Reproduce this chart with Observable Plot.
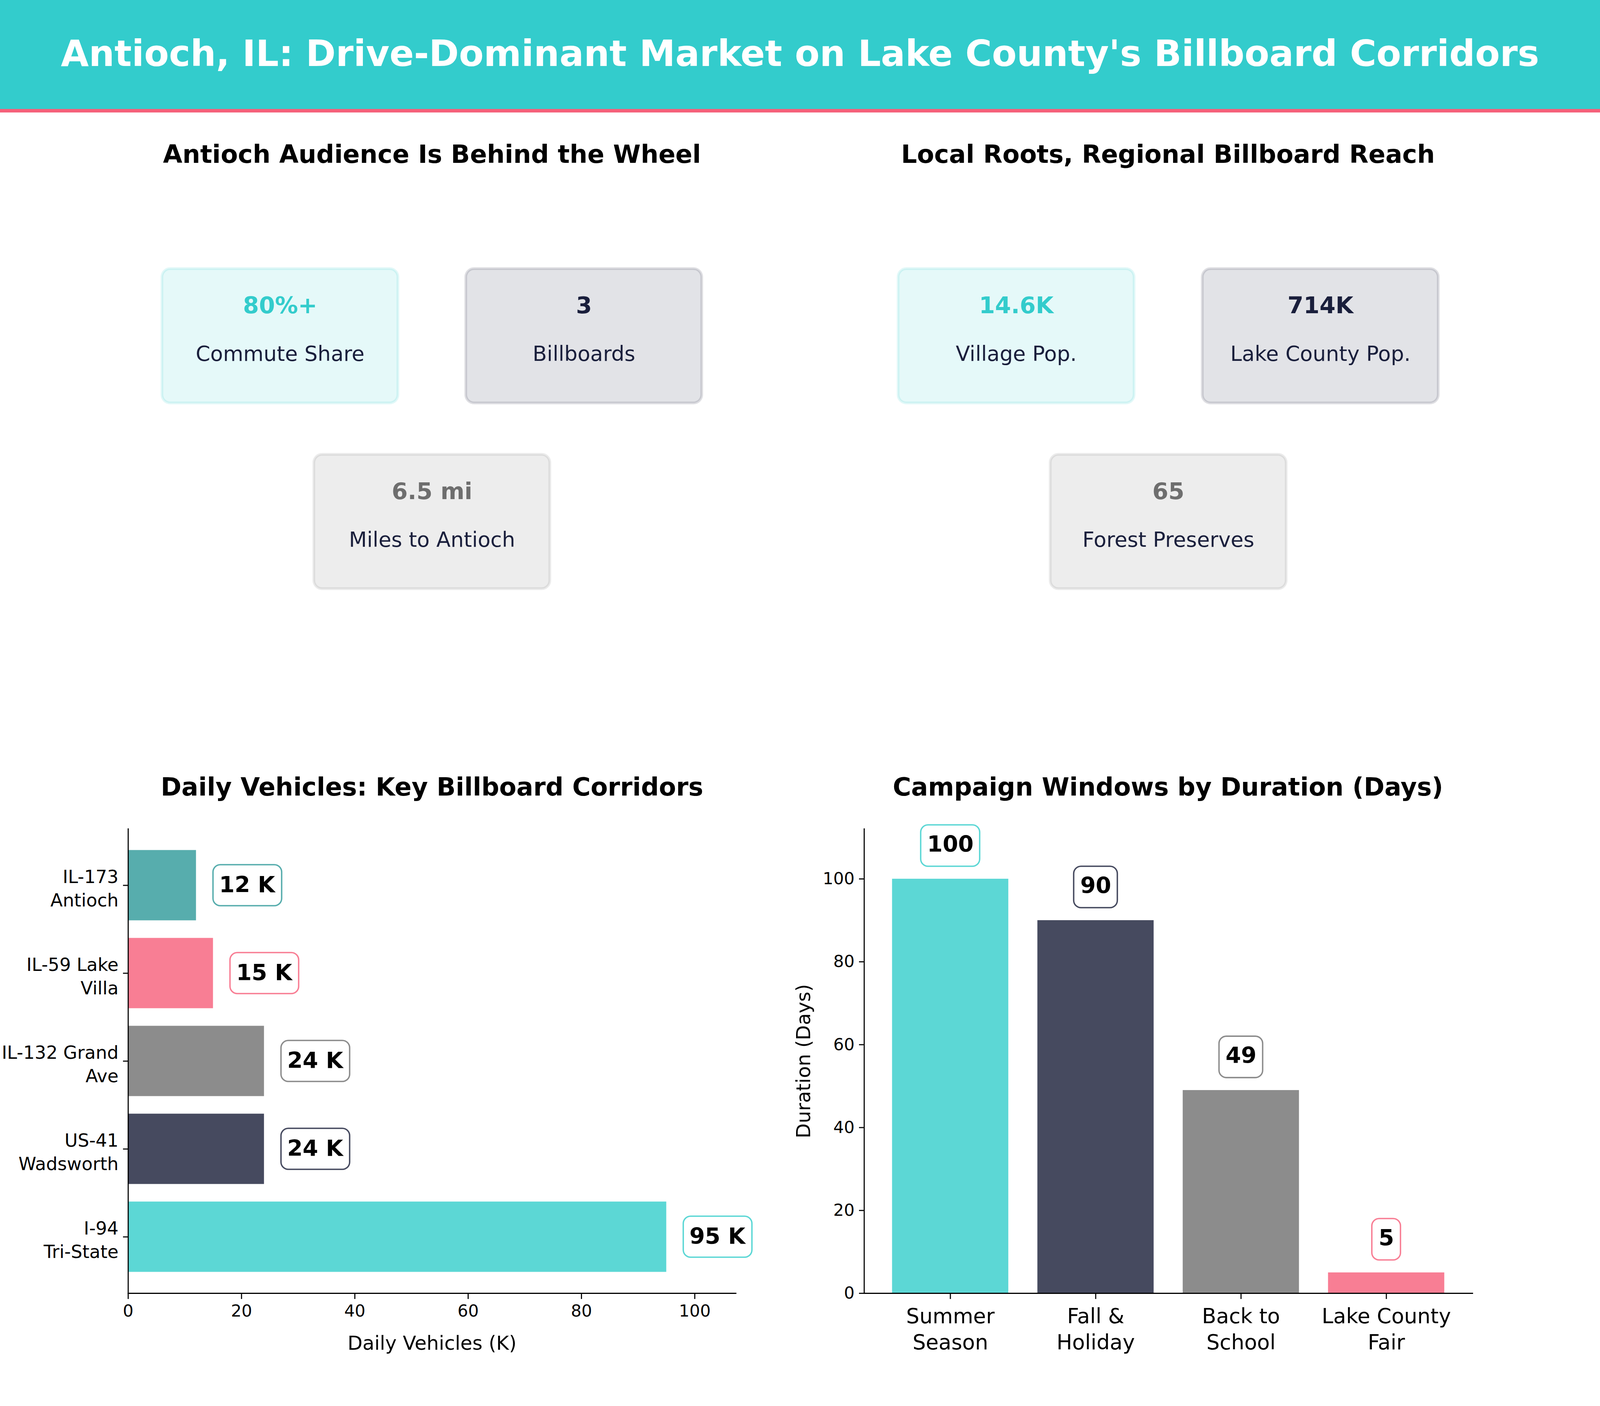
<!DOCTYPE html>
<html>
<head>
<meta charset="utf-8">
<script src="https://cdn.jsdelivr.net/npm/d3@7"></script>
<script src="https://cdn.jsdelivr.net/npm/@observablehq/plot@0.6"></script>
<style>
html,body{margin:0;padding:0;background:#fff;overflow:hidden;}
#page{position:relative;overflow:hidden;background:#fff;font-family:"DejaVu Sans",sans-serif;}
#banner{position:absolute;left:0;top:0;background:#33CCCC;border-bottom-style:solid;border-bottom-color:#F5607A;color:#fff;font-weight:bold;text-align:center;white-space:nowrap;}
.ptitle{position:absolute;text-align:center;font-weight:bold;color:#000;white-space:nowrap;}
.panel{position:absolute;}
.panel svg{display:block;max-width:none;}
</style>
</head>
<body>
<div id="page"><div id="banner">Antioch, IL: Drive-Dominant Market on Lake County's Billboard Corridors</div></div>
<script>
const TEAL="#33CCCC", NAVY="#1A1F3C", GREY="#6E6E6E";
const kpiColX=[0.25,0.75,0.5];
const kpiRowY=[0.68,0.68,0.32];
const kpiAccent=[TEAL,NAVY,GREY];
const audienceValues=["80%+","3","6.5 mi"];
const audienceLabels=["Commute Share","Billboards","Miles to Antioch"];
const reachValues=["14.6K","714K","65"];
const reachLabels=["Village Pop.","Lake County Pop.","Forest Preserves"];

const corridors=["IL-173\nAntioch","IL-59 Lake\nVilla","IL-132 Grand\nAve","US-41\nWadsworth","I-94\nTri-State"];
const corridorVehicles=[12,15,24,24,95];
const corridorColors=["#57ADAD","#F87E94","#8C8C8C","#464A5F","#5CD7D5"];
const vehicleTicks=[0,20,40,60,80,100];

const windows=["Summer\nSeason","Fall &\nHoliday","Back to\nSchool","Lake County\nFair"];
const windowDays=[100,90,49,5];
const windowColors=["#5CD7D5","#464A5F","#8C8C8C","#F87E94"];
const dayTicks=[0,20,40,60,80,100];

// The layout is measured on a 4800x3600 design and follows the real window size,
// so nothing is cut off if the browser window is smaller than that.
const W=window.innerWidth||4800, H=window.innerHeight||3600;
const sx=W/4800, sy=H/3600, f=Math.min(sx,sy);
const FONT='"DejaVu Sans",sans-serif';
const page=document.getElementById("page");
page.style.width=W+"px";page.style.height=H+"px";
const banner=document.getElementById("banner");
banner.style.width=W+"px";banner.style.height=279*sy+"px";banner.style.borderBottomWidth=9*sy+"px";
banner.style.fontSize=108.33*f+"px";banner.style.lineHeight=274*sy+"px";

function place(node,left,top){const d=document.createElement("div");d.className="panel";d.style.left=left*sx+"px";d.style.top=top*sy+"px";d.appendChild(node);page.appendChild(d);}
function title(text,left,top){const d=document.createElement("div");d.className="ptitle";d.style.left=left*sx+"px";d.style.top=top*sy+"px";d.style.width=2400*sx+"px";d.style.fontSize=75*f+"px";d.style.lineHeight=90*sy+"px";d.textContent=text;page.appendChild(d);}
const frame=(ml,mr)=>({width:2400*sx,height:1600*sy,marginLeft:ml*sx,marginRight:mr*sx,
  style:{background:"transparent",fontFamily:FONT,overflow:"visible"},color:{type:"identity"}});

function kpiPanel(values,labels,ml,mr){
  const rows=values.map((v,i)=>({value:v,label:labels[i],col:kpiColX[i],row:kpiRowY[i],accent:kpiAccent[i]}));
  return Plot.plot({...frame(ml,mr),marginTop:137*sy,marginBottom:142*sy,
    x:{domain:[0,1],axis:null},y:{domain:[0,1],axis:null},
    marks:[
      Plot.rect(rows,{x1:"col",x2:"col",y1:"row",y2:"row",insetLeft:-354*sx,insetRight:-354*sx,insetTop:-172*sy,insetBottom:-172*sy,rx:25*f,
        fill:"accent",fillOpacity:0.125,stroke:"accent",strokeOpacity:0.14,strokeWidth:8*f}),
      Plot.text(rows,{x:"col",y:"row",text:"value",fill:"accent",fontSize:69*f,fontWeight:"bold",dy:-77*sy,fontFamily:FONT}),
      Plot.text(rows,{x:"col",y:"row",text:"label",fill:NAVY,fontSize:62.5*f,dy:47*sy,fontFamily:FONT})
    ]
  });
}

function corridorChart(){
  const rows=corridors.map((c,i)=>({name:c,v:corridorVehicles[i],color:corridorColors[i],label:corridorVehicles[i]+" K"}));
  return Plot.plot({...frame(384,193),marginTop:122*sy,marginBottom:289*sy,
    x:{domain:[0,107.25],ticks:vehicleTicks},
    y:{domain:corridors,paddingInner:0.2,paddingOuter:0.242,round:false},
    marks:[
      Plot.barX(rows,{x:"v",y:"name",fill:"color"}),
      Plot.barX(rows,{x1:"v",x2:"v",y:"name",insetLeft:51*sx,insetRight:-257*sx,insetTop:37.5*sy,insetBottom:37.5*sy,rx:22*f,fill:"#fff",stroke:"color",strokeWidth:4.2*f}),
      Plot.text(rows,{x:"v",y:"name",text:"label",textAnchor:"start",dx:69*sx,fontSize:66.7*f,fontWeight:"bold",fill:"#000",fontFamily:FONT}),
      Plot.frame({anchor:"left",stroke:"#000",strokeWidth:3.3*f}),
      Plot.frame({anchor:"bottom",stroke:"#000",strokeWidth:3.3*f}),
      Plot.axisY({tickSize:15*sx,text:null,label:null,strokeWidth:3.3*f}),
      Plot.axisY({tickSize:0,tickPadding:29*sx,dy:5*sy,fontSize:54*f,lineHeight:1.1*sy/f,label:null,tickFormat:d=>d}),
      Plot.axisX({ticks:vehicleTicks,tickSize:15*sy,tickPadding:14*sy,fontSize:50*f,label:null,strokeWidth:3.3*f}),
      Plot.axisX({ticks:[],label:"Daily Vehicles (K)",labelAnchor:"center",labelArrow:"none",labelOffset:144*sy,fontSize:58.3*f})
    ]
  });
}

function windowChart(){
  const rows=windows.map((c,i)=>({name:c,v:windowDays[i],color:windowColors[i],label:String(windowDays[i])}));
  const byDigits=n=>rows.filter(r=>r.label.length===n);
  const box=(n,w)=>Plot.barY(byDigits(n),{x:"name",y1:"v",y2:"v",insetLeft:(348.8-w)/2*sx,insetRight:(348.8-w)/2*sx,insetTop:-138*sy,insetBottom:32*sy,rx:22*f,fill:"#fff",stroke:"color",strokeWidth:4.2*f});
  return Plot.plot({...frame(192,383),marginTop:122*sy,marginBottom:289*sy,
    x:{domain:windows,paddingInner:0.2,paddingOuter:0.193,round:false},
    y:{domain:[0,112.06]},
    marks:[
      Plot.barY(rows,{x:"name",y:"v",fill:"color"}),
      box(3,177),box(2,131),box(1,86),
      Plot.text(rows,{x:"name",y:"v",text:"label",dy:-88*sy,fontSize:66.7*f,fontWeight:"bold",fill:"#000",fontFamily:FONT}),
      Plot.frame({anchor:"left",stroke:"#000",strokeWidth:3.3*f}),
      Plot.frame({anchor:"bottom",stroke:"#000",strokeWidth:3.3*f}),
      Plot.axisY({ticks:dayTicks,tickSize:15*sx,tickPadding:14*sx,fontSize:50*f,label:null,strokeWidth:3.3*f}),
      Plot.axisX({tickSize:15*sy,tickPadding:14*sy,fontSize:62.5*f,lineHeight:1.07*sy/f,label:null,strokeWidth:3.3*f,tickFormat:d=>d}),
      Plot.axisY({ticks:[],label:"Duration (Days)",labelAnchor:"center",labelArrow:"none",labelOffset:203*sx,fontSize:58.3*f})
    ]
  });
}

title("Antioch Audience Is Behind the Wheel",96,350);
title("Local Roots, Regional Billboard Reach",2304,350);
title("Daily Vehicles: Key Billboard Corridors",96,1970);
title("Campaign Windows by Duration (Days)",2304,1970);
place(kpiPanel(audienceValues,audienceLabels,384,193),0,300);
place(kpiPanel(reachValues,reachLabels,192,383),2400,300);
place(corridorChart(),0,2000);
place(windowChart(),2400,2000);
</script>
</body>
</html>
